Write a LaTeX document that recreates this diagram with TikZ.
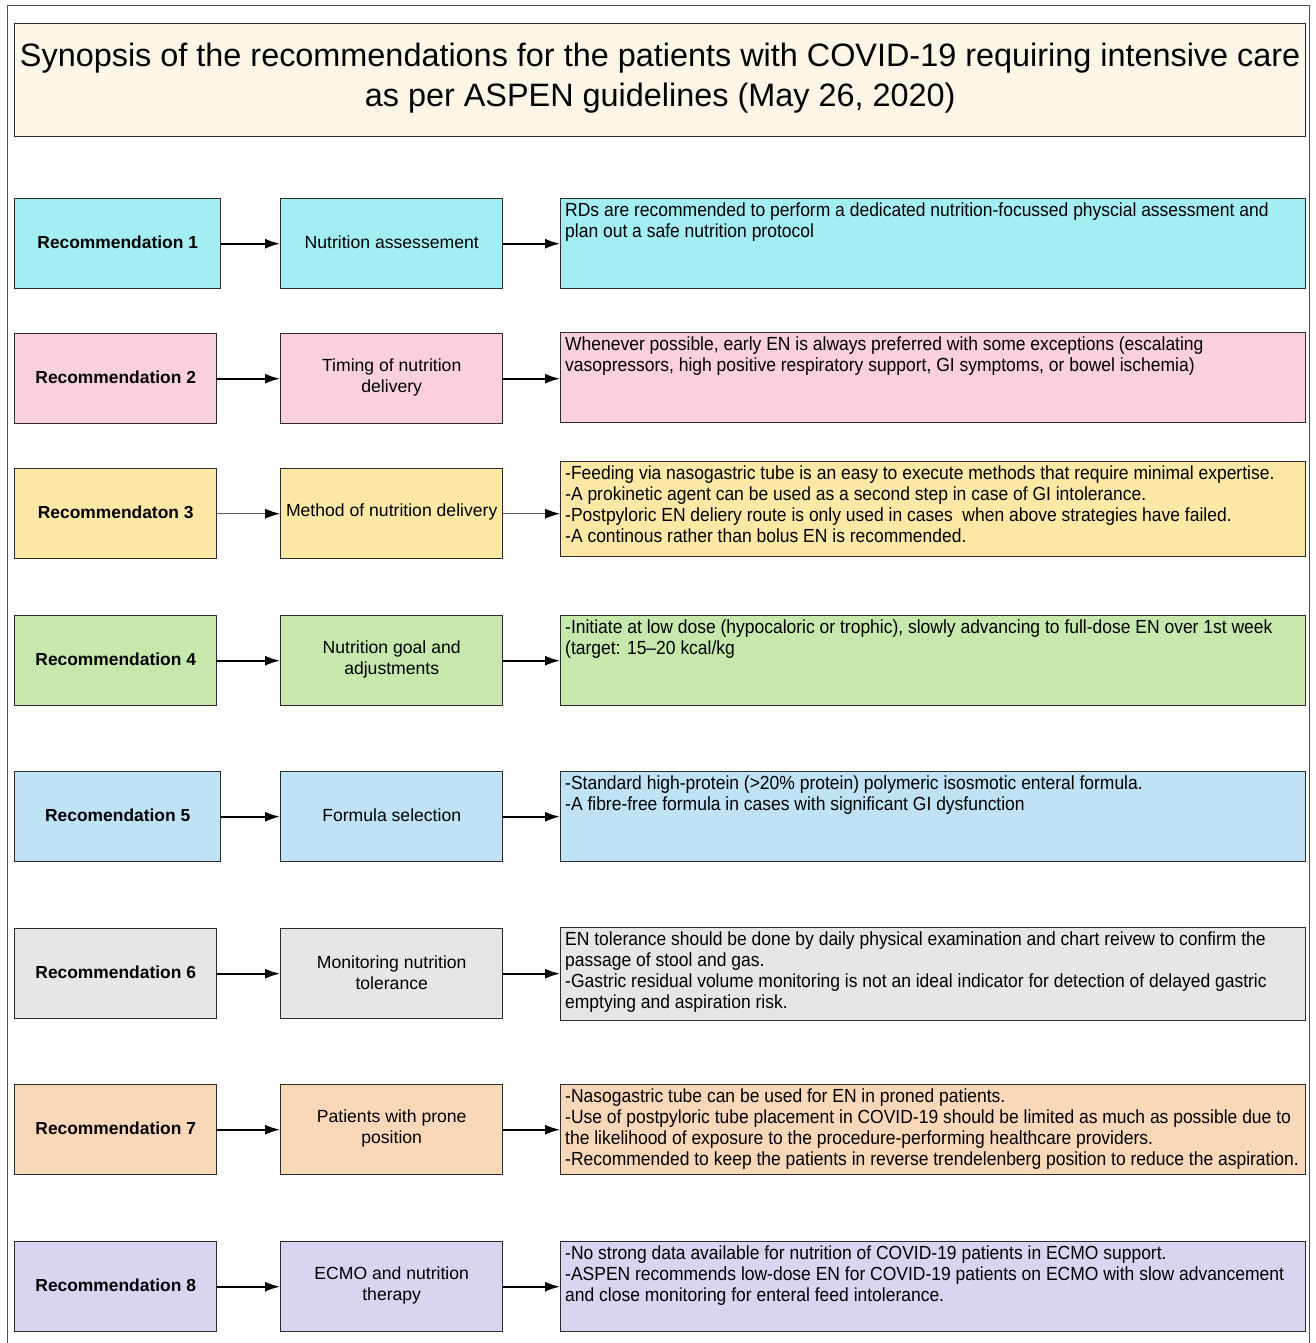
\documentclass[tikz,border=0pt]{standalone}
\usepackage{fontspec}
\setmainfont{Liberation Sans}
\newfontfamily\bodyfont{Liberation Sans}[FakeStretch=0.92]
\usetikzlibrary{arrows.meta,positioning}
\definecolor{cTitle}{HTML}{FDF6E6}
\definecolor{cA}{HTML}{A3EEF3}
\definecolor{cB}{HTML}{F9D0DC}
\definecolor{cC}{HTML}{FDE9A5}
\definecolor{cD}{HTML}{C6E8AC}
\definecolor{cE}{HTML}{BFE3F5}
\definecolor{cF}{HTML}{E6E6E6}
\definecolor{cG}{HTML}{F8D8B8}
\definecolor{cH}{HTML}{D8D5F0}
\definecolor{cLine}{HTML}{2B2B2B}
\tikzset{
  boxstyle/.style={draw=cLine, line width=1.4pt, anchor=north west, inner sep=0pt},
  recstyle/.style={font=\fontsize{17.4}{20}\selectfont\bfseries, align=center},
  midstyle/.style={font=\fontsize{17.6}{21}\selectfont, align=center},
  bodystyle/.style={font=\bodyfont\fontsize{19}{21}\selectfont, align=left, anchor=north west, inner sep=0pt},
  arr/.style={-{Latex[length=15pt,width=10pt]}, line width=1.7pt, draw=black},
  arrthin/.style={-{Latex[length=15pt,width=10pt,black]}, line width=1pt, draw=black!65},
}
\newcommand{\recrow}[9]{%
  \node[boxstyle, fill=#4, minimum width=#3pt, minimum height=90pt] (a#1) at (14,#2) {};
  \node[recstyle] (la#1) at ([yshift=1.5pt]a#1.center) {#5};
  \node[boxstyle, fill=#4, minimum width=222pt, minimum height=90pt] (b#1) at (280,#2) {};
  \node[midstyle] (lb#1) at ([yshift=1.5pt]b#1.center) {#6};
  \node[boxstyle, fill=#4, minimum width=745pt, minimum height=#8pt] (c#1) at (560,#7) {};
  \node[bodystyle] (lc#1) at ([xshift=5pt,yshift=-5pt]c#1.north west) {#9};
}
\begin{document}
\begin{tikzpicture}[x=1pt,y=-1pt]
\useasboundingbox (0,0) rectangle (1316,1343);
% outer frame (open at bottom)
\draw[draw=black!70, line width=1pt] (7,1343) -- (7,6) -- (1309,6) -- (1309,1343);
% title
\node[boxstyle, fill=cTitle, minimum width=1291pt, minimum height=113pt] (title) at (14,23) {};
\node[font=\fontsize{32.4}{40}\selectfont, align=center] (titletext) at ([yshift=2pt]title.center) {Synopsis of the recommendations for the patients with COVID-19 requiring intensive care\\as per ASPEN guidelines (May 26, 2020)};

\recrow{1}{198}{206}{cA}{Recommendation 1}{Nutrition assessement}{198}{90}{RDs are recommended to perform a dedicated nutrition-focussed physcial assessment and\\plan out a safe nutrition protocol}
\recrow{2}{333}{202}{cB}{Recommendation 2}{Timing of nutrition\\delivery}{332}{90}{Whenever possible, early EN is always preferred with some exceptions (escalating\\vasopressors, high positive respiratory support, GI symptoms, or bowel ischemia)}
\recrow{3}{468}{202}{cC}{Recommendaton 3}{Method of nutrition delivery}{461}{95}{-Feeding via nasogastric tube is an easy to execute methods that require minimal expertise.\\-A prokinetic agent can be used as a second step in case of GI intolerance.\\-Postpyloric EN deliery route is only used in cases\ \ when above strategies have failed.\\-A continous rather than bolus EN is recommended.}
\recrow{4}{615}{202}{cD}{Recommendation 4}{Nutrition goal and\\adjustments}{615}{90}{-Initiate at low dose (hypocaloric or trophic), slowly advancing to full-dose EN over 1st week\\(target: 15–20 kcal/kg}
\recrow{5}{771}{206}{cE}{Recomendation 5}{Formula selection}{771}{90}{-Standard high-protein (>20\% protein) polymeric isosmotic enteral formula.\\-A fibre-free formula in cases with significant GI dysfunction}
\recrow{6}{928}{202}{cF}{Recommendation 6}{Monitoring nutrition\\tolerance}{927}{93}{EN tolerance should be done by daily physical examination and chart reivew to confirm the\\passage of stool and gas.\\-Gastric residual volume monitoring is not an ideal indicator for detection of delayed gastric\\emptying and aspiration risk.}
\recrow{7}{1084}{202}{cG}{Recommendation 7}{Patients with prone\\position}{1084}{90}{-Nasogastric tube can be used for EN in proned patients.\\-Use of postpyloric tube placement in COVID-19 should be limited as much as possible due to\\the likelihood of exposure to the procedure-performing healthcare providers.\\-Recommended to keep the patients in reverse trendelenberg position to reduce the aspiration.}
\recrow{8}{1241}{202}{cH}{Recommendation 8}{ECMO and nutrition\\therapy}{1241}{90}{-No strong data available for nutrition of COVID-19 patients in ECMO support.\\-ASPEN recommends low-dose EN for COVID-19 patients on ECMO with slow advancement\\and close monitoring for enteral feed intolerance.}

% connectors
\foreach \i in {1,2,4,5,6,7,8}{
  \draw[arr] (a\i.east) -- (b\i.west);
  \draw[arr] (b\i.east) -- (b\i.east -| c\i.west);
}
\draw[arrthin] (a3.east) -- (b3.west);
\draw[arrthin] (b3.east) -- (b3.east -| c3.west);
\end{tikzpicture}
\end{document}
